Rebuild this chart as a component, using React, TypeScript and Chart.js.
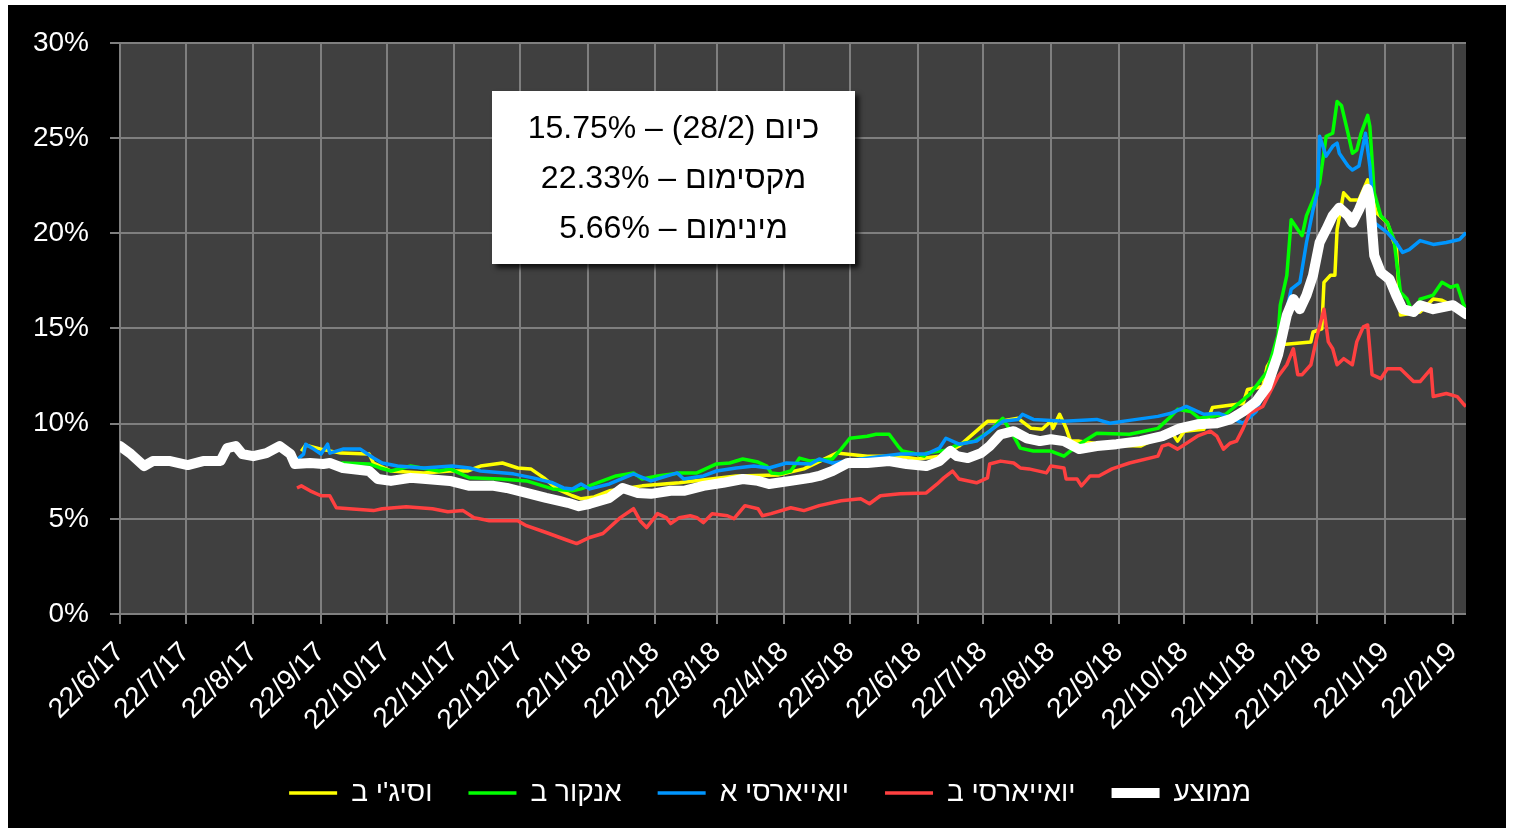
import { useEffect, useRef } from "react";
import { Chart, registerables } from "chart.js";

Chart.register(...registerables);

// ---------- DATA ----------
// x-axis tick labels (d/m/yy) and the last date in the series
const X_TICK_LABELS = [
  "22/6/17", "22/7/17", "22/8/17", "22/9/17", "22/10/17", "22/11/17", "22/12/17",
  "22/1/18", "22/2/18", "22/3/18", "22/4/18", "22/5/18", "22/6/18", "22/7/18",
  "22/8/18", "22/9/18", "22/10/18", "22/11/18", "22/12/18", "22/1/19", "22/2/19",
];
const LAST_DATE = "28/2/19";

// legend names
const NAME_AVG = "ממוצע";
const NAME_RED = "יואייארסי ב";
const NAME_BLUE = "יואייארסי א";
const NAME_GREEN = "אנקור ב";
const NAME_YELLOW = "וסיג'י ב";

// annotation values
const TODAY_TEXT = "(28/2)";
const TODAY_VALUE = 15.75;
const MAX_VALUE = 22.33;
const MIN_VALUE = 5.66;

// series: [days since 22/6/17, value in %]
const avgSeries: [number, number][] = [
  [0, 8.82], [5, 8.4], [11, 7.77], [15, 8.03], [23, 8.03], [31, 7.82], [38, 8.03], [46, 8.03],
  [49, 8.71], [53, 8.82], [56, 8.4], [61, 8.29], [67, 8.45], [73, 8.82], [78, 8.4], [80, 7.88],
  [87, 7.93], [93, 7.88], [96, 7.93], [102, 7.67], [114, 7.51], [118, 7.09], [124, 6.99],
  [133, 7.15], [140, 7.09], [151, 6.99], [160, 6.73], [171, 6.73], [177, 6.62], [186, 6.36],
  [195, 6.1], [205, 5.84], [210, 5.66], [215, 5.79], [224, 6.1], [230, 6.62], [237, 6.36],
  [243, 6.31], [252, 6.47], [258, 6.47], [267, 6.73], [276, 6.89], [285, 7.09], [292, 6.99],
  [297, 6.83], [307, 6.99], [316, 7.15], [320, 7.25], [326, 7.51], [333, 7.93], [342, 7.93],
  [352, 8.03], [360, 7.88], [369, 7.77], [375, 8.03], [380, 8.56], [383, 8.29], [388, 8.19],
  [394, 8.45], [398, 8.82], [403, 9.44], [409, 9.6], [415, 9.23], [421, 9.08], [426, 9.18],
  [432, 9.08], [439, 8.66], [447, 8.82], [456, 8.92], [467, 9.08], [477, 9.34], [485, 9.75],
  [493, 9.96], [502, 10.02], [508, 10.22], [514, 10.64], [520, 11.16], [525, 11.95],
  [530, 13.62], [534, 15.7], [537, 16.54], [540, 16.01], [543, 16.75], [546, 17.79],
  [549, 19.51], [552, 20.19], [555, 20.92], [558, 21.34], [562, 20.92], [564, 20.55],
  [567, 21.23], [571, 22.33], [572, 21.75], [574, 18.83], [577, 17.94], [581, 17.58],
  [584, 16.75], [587, 16.01], [592, 15.86], [595, 16.22], [601, 16.01], [610, 16.22], [616, 15.75],
];

const yellowSeries: [number, number][] = [
  [83, 8.55], [85, 8.87], [92, 8.66], [101, 8.45], [114, 8.4], [116, 7.93], [124, 7.51],
  [139, 7.41], [151, 7.51], [159, 7.51], [165, 7.77], [175, 7.93], [182, 7.67], [188, 7.62],
  [194, 7.15], [200, 6.57], [207, 6.21], [211, 6.05], [217, 6.15], [224, 6.47], [239, 6.73],
  [256, 6.89], [282, 7.25], [301, 7.3], [313, 7.62], [328, 8.45], [342, 8.29], [356, 8.29],
  [365, 8.14], [375, 8.29], [384, 8.82], [397, 10.12], [403, 10.12], [411, 10.28], [417, 9.75],
  [422, 9.7], [426, 10.12], [427, 9.75], [430, 10.49], [433, 9.75], [435, 9.08], [439, 9.08],
  [453, 8.87], [467, 8.82], [481, 9.6], [484, 9.08], [487, 9.6], [496, 9.7], [500, 10.85],
  [514, 11.06], [516, 11.79], [523, 11.95], [525, 12.99], [531, 14.14], [545, 14.29],
  [546, 14.81], [550, 14.97], [551, 17.42], [554, 17.79], [556, 17.79], [557, 20.19],
  [560, 22.12], [563, 21.75], [567, 21.75], [571, 22.8], [572, 22.48], [575, 21.07],
  [580, 20.55], [583, 19.51], [584, 19.51], [586, 15.7], [595, 15.86], [601, 16.54],
  [605, 16.48], [613, 16.01], [616, 15.86],
];

const greenSeries: [number, number][] = [
  [0, 8.7], [5, 8.28], [11, 7.65], [15, 7.91], [23, 7.91], [31, 7.7], [38, 7.91], [46, 7.91],
  [49, 8.59], [53, 8.7], [56, 8.28], [61, 8.17], [67, 8.33], [73, 8.7], [78, 8.28], [80, 7.76],
  [87, 7.82], [96, 7.82], [102, 7.93], [114, 7.88], [119, 7.67], [124, 7.51], [133, 7.77],
  [146, 7.51], [151, 7.62], [160, 7.15], [174, 7.09], [186, 6.99], [198, 6.57], [207, 6.47],
  [211, 6.57], [227, 7.25], [235, 7.41], [239, 7.09], [246, 7.25], [256, 7.41], [264, 7.41],
  [273, 7.88], [279, 7.93], [285, 8.14], [292, 7.98], [296, 7.77], [298, 7.41], [302, 7.36],
  [307, 7.51], [311, 8.19], [316, 8.03], [326, 8.14], [330, 8.66], [334, 9.23], [342, 9.34],
  [346, 9.44], [352, 9.44], [356, 8.82], [358, 8.56], [363, 8.45], [368, 8.29], [369, 8.45],
  [378, 8.6], [384, 8.92], [391, 9.08], [398, 9.6], [404, 10.28], [409, 9.34], [412, 8.71],
  [418, 8.56], [426, 8.56], [432, 8.29], [439, 8.92], [447, 9.49], [462, 9.44], [475, 9.75],
  [481, 10.38], [484, 10.75], [490, 10.64], [494, 10.28], [506, 10.49], [517, 11.53],
  [525, 12.73], [530, 14.66], [531, 16.22], [534, 17.79], [536, 20.71], [539, 20.19],
  [541, 19.87], [543, 20.92], [546, 21.75], [549, 22.64], [552, 25.09], [555, 25.25],
  [557, 26.92], [559, 26.71], [562, 25.25], [564, 24.2], [566, 24.36], [568, 25.25],
  [571, 26.19], [572, 25.61], [574, 22.12], [577, 20.92], [580, 20.55], [583, 19.67],
  [586, 16.9], [589, 16.54], [592, 15.7], [595, 16.54], [601, 16.75], [605, 17.42],
  [609, 17.16], [612, 17.27], [615, 16.22], [616, 16.12],
];

const blueSeries: [number, number][] = [
  [0, 8.94], [5, 8.52], [11, 7.89], [15, 8.15], [23, 8.15], [31, 7.94], [38, 8.15], [46, 8.15],
  [49, 8.83], [53, 8.94], [56, 8.52], [61, 8.41], [67, 8.57], [73, 8.94], [78, 8.52], [80, 8.0],
  [84, 8.4], [85, 8.92], [88, 8.71], [92, 8.4], [95, 8.92], [96, 8.45], [102, 8.66], [110, 8.66],
  [116, 8.19], [120, 7.93], [127, 7.77], [139, 7.67], [152, 7.77], [160, 7.67], [165, 7.51],
  [180, 7.36], [189, 7.15], [198, 6.89], [203, 6.62], [207, 6.57], [211, 6.83], [215, 6.57],
  [224, 6.83], [235, 7.36], [243, 6.99], [255, 7.41], [258, 7.09], [267, 7.25], [273, 7.51],
  [282, 7.67], [290, 7.77], [297, 7.67], [305, 7.93], [316, 7.88], [320, 8.14], [326, 7.93],
  [339, 8.14], [357, 8.4], [369, 8.4], [375, 8.71], [378, 9.23], [384, 8.92], [392, 9.08],
  [398, 9.6], [404, 10.12], [411, 10.22], [413, 10.49], [418, 10.22], [432, 10.12],
  [447, 10.22], [453, 10.02], [462, 10.17], [475, 10.38], [481, 10.54], [488, 10.9],
  [496, 10.49], [503, 10.54], [514, 10.02], [520, 10.64], [529, 13.25], [536, 17.06],
  [540, 17.42], [543, 19.51], [546, 21.23], [548, 22.12], [549, 25.09], [552, 24.05],
  [555, 24.57], [557, 24.73], [558, 24.2], [562, 23.53], [564, 23.32], [567, 23.53],
  [570, 25.25], [572, 23.53], [574, 20.55], [580, 20.03], [584, 19.51], [587, 18.99],
  [590, 19.14], [595, 19.61], [601, 19.41], [607, 19.51], [613, 19.67], [616, 20.03],
];

const redSeries: [number, number][] = [
  [81, 6.62], [83, 6.73], [87, 6.47], [92, 6.21], [96, 6.21], [99, 5.58], [105, 5.53],
  [116, 5.43], [120, 5.53], [131, 5.63], [143, 5.53], [150, 5.37], [157, 5.43], [162, 5.06],
  [169, 4.9], [182, 4.9], [186, 4.64], [195, 4.28], [205, 3.86], [209, 3.7], [215, 4.02],
  [221, 4.23], [229, 5.06], [235, 5.53], [238, 4.9], [241, 4.54], [246, 5.27], [250, 5.06],
  [252, 4.75], [256, 5.06], [261, 5.16], [264, 5.06], [267, 4.8], [271, 5.27], [278, 5.16],
  [281, 5.01], [286, 5.69], [292, 5.53], [294, 5.16], [298, 5.27], [307, 5.58], [313, 5.43],
  [320, 5.69], [330, 5.95], [339, 6.05], [343, 5.79], [348, 6.21], [357, 6.31], [369, 6.36],
  [374, 6.83], [377, 7.15], [381, 7.51], [384, 7.09], [392, 6.89], [397, 7.15], [398, 7.88],
  [403, 8.03], [409, 7.93], [412, 7.67], [416, 7.62], [424, 7.41], [426, 7.77], [432, 7.67],
  [433, 7.09], [438, 7.09], [440, 6.73], [444, 7.25], [448, 7.25], [454, 7.62], [462, 7.93],
  [475, 8.29], [477, 8.82], [480, 8.92], [484, 8.66], [493, 9.34], [499, 9.6], [502, 9.34],
  [505, 8.66], [508, 8.97], [511, 9.08], [514, 9.75], [517, 10.54], [523, 10.9], [530, 12.47],
  [534, 13.09], [537, 13.93], [539, 12.57], [541, 12.57], [545, 13.09], [548, 14.66],
  [551, 16.01], [553, 14.29], [555, 13.93], [557, 13.09], [560, 13.41], [564, 13.09],
  [566, 14.29], [569, 15.08], [571, 15.18], [573, 12.57], [577, 12.36], [580, 12.88],
  [586, 12.88], [592, 12.21], [595, 12.21], [600, 12.88], [601, 11.42], [607, 11.58],
  [612, 11.42], [615, 11.01], [616, 10.9],
];

// ---------- HELPERS ----------
const BASE_UTC = Date.UTC(2017, 5, 22);
function dayOf(label: string): number {
  const [d, m, y] = label.split("/").map(Number);
  return Math.round((Date.UTC(2000 + y, m - 1, d) - BASE_UTC) / 86400000);
}
const tickDays = X_TICK_LABELS.map(dayOf);
const lastDay = dayOf(LAST_DATE);
const toPoints = (s: [number, number][]) => s.map(([x, y]) => ({ x, y }));

const FONT = "'Liberation Sans', Arial, sans-serif";
const GRID = "#7f7f7f";

const plotBg = {
  id: "plotBg",
  beforeDraw(chart: any) {
    const { ctx, chartArea } = chart;
    if (!chartArea) return;
    ctx.save();
    ctx.fillStyle = "#404040";
    ctx.fillRect(chartArea.left, chartArea.top, chartArea.right - chartArea.left, chartArea.bottom - chartArea.top);
    ctx.restore();
  },
};

// shifts the legend box horizontally (legend is centred a little right of the canvas centre)
const legendShift = {
  id: "legendShift",
  afterLayout(chart: any) {
    const lg = chart.legend;
    if (!lg) return;
    lg.left += 33;
    lg.right += 33;
  },
};

export default function App() {
  const ref = useRef<HTMLCanvasElement | null>(null);

  useEffect(() => {
    if (!ref.current) return;
    const line = (label: string, data: [number, number][], color: string, width: number, cap: any) => ({
      label,
      data: toPoints(data),
      borderColor: color,
      backgroundColor: color,
      borderWidth: width,
      borderCapStyle: cap,
      borderJoinStyle: "round" as const,
      pointRadius: 0,
      tension: 0,
      fill: false,
    });
    const chart = new Chart(ref.current, {
      type: "line",
      data: {
        datasets: [
          line(NAME_AVG, avgSeries, "#ffffff", 10, "round"),
          line(NAME_RED, redSeries, "#ff4040", 3.5, "butt"),
          line(NAME_BLUE, blueSeries, "#0096ff", 3.5, "butt"),
          line(NAME_GREEN, greenSeries, "#00ff00", 3.5, "butt"),
          line(NAME_YELLOW, yellowSeries, "#ffff00", 3.5, "butt"),
        ],
      },
      options: {
        animation: false,
        responsive: true,
        maintainAspectRatio: false,
        events: [],
        layout: { padding: { top: 34, right: 40, left: 0, bottom: 11 } },
        scales: {
          x: {
            type: "linear",
            min: 0,
            max: lastDay,
            afterBuildTicks: (s: any) => {
              s.ticks = tickDays.map((v) => ({ value: v }));
            },
            afterFit: (s: any) => {
              s.height = 129;
            },
            ticks: {
              autoSkip: false,
              maxRotation: 45,
              minRotation: 45,
              padding: 12,
              color: "#ffffff",
              font: { family: FONT, size: 28 },
              callback: (_v: any, i: number) => X_TICK_LABELS[i],
            },
            grid: { color: GRID, lineWidth: 2, tickLength: 10, drawTicks: true },
            border: { display: false },
          },
          y: {
            min: 0,
            max: 30,
            afterFit: (s: any) => {
              s.width = 112;
            },
            ticks: {
              stepSize: 5,
              padding: 21,
              color: "#ffffff",
              font: { family: FONT, size: 28 },
              callback: (v: any) => `${v}%`,
            },
            grid: { color: GRID, lineWidth: 2, tickLength: 10, drawTicks: true },
            border: { display: false },
          },
        },
        plugins: {
          tooltip: { enabled: false },
          legend: {
            position: "bottom",
            reverse: true,
            labels: {
              usePointStyle: true,
              pointStyle: "line",
              pointStyleWidth: 48,
              padding: 36,
              color: "#ffffff",
              font: { family: FONT, size: 28 },
            },
          },
        },
      },
      plugins: [plotBg, legendShift],
    } as any);
    return () => chart.destroy();
  }, []);

  return (
    <div
      style={{
        position: "absolute",
        left: 8,
        top: 5,
        width: 1498,
        height: 823,
        background: "#000000",
      }}
    >
      <canvas ref={ref} />
      <div
        style={{
          position: "absolute",
          left: 484,
          top: 86,
          width: 363,
          height: 173,
          boxSizing: "border-box",
          paddingTop: 11,
          background: "#ffffff",
          boxShadow: "4px 4px 5px rgba(0,0,0,0.75)",
          direction: "rtl",
          textAlign: "center",
          color: "#000000",
          fontFamily: FONT,
          fontSize: 32,
          lineHeight: "50px",
        }}
      >
        <div>{`כיום ${TODAY_TEXT} – ${TODAY_VALUE.toFixed(2)}%`}</div>
        <div>{`מקסימום – ${MAX_VALUE.toFixed(2)}%`}</div>
        <div>{`מינימום – ${MIN_VALUE.toFixed(2)}%`}</div>
      </div>
    </div>
  );
}
